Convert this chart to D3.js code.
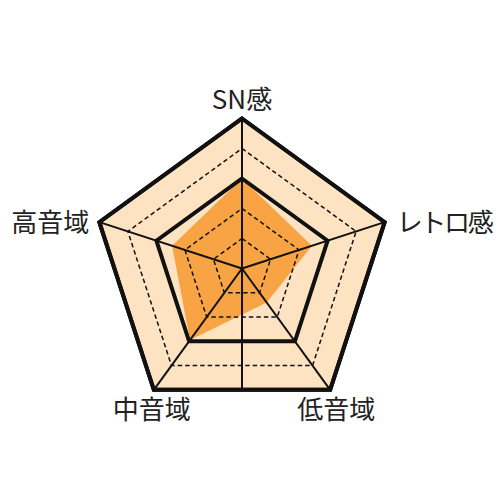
<!DOCTYPE html>
<html>
<head>
<meta charset="utf-8">
<script src="https://cdn.jsdelivr.net/npm/d3@7"></script>
<style>
html,body{margin:0;padding:0;background:#fff;}
svg{display:block;}
text{font-family:"Noto Sans CJK JP","Noto Sans",sans-serif;fill:#222;}
</style>
</head>
<body>
<svg></svg>
<script>
var axes = ['SN感', 'レトロ感', '低音域', '中音域', '高音域'];
var values = [3, 2.45, 1.4, 2.95, 2.45];
var levels = [1, 2, 3, 4, 5];
var boldLevels = [3, 5];

var width = 500,
    height = 500,
    cx = 242,
    cy = 268.5,
    radius = 150;

var svg = d3.select('svg')
    .attr('width', width)
    .attr('height', height);

var r = d3.scaleLinear().domain([0, 5]).range([0, radius]);
var angle = d3.scaleLinear().domain([0, axes.length]).range([0, 2 * Math.PI]);

function pt(i, v){
    var a = angle(i);
    return [cx + r(v) * Math.sin(a), cy - r(v) * Math.cos(a)];
}
function ring(v){
    return axes.map(function(d, i){ return pt(i, v); });
}
var line = d3.line().curve(d3.curveLinearClosed);

// background
svg.append('path')
    .attr('d', line(ring(5)))
    .attr('fill', '#fde3c2');

// data shape
svg.append('path')
    .attr('d', line(values.map(function(v, i){ return pt(i, v); })))
    .attr('fill', '#f8a444');

// grid rings
svg.selectAll('path.ring')
    .data(levels)
    .enter().append('path')
    .classed('ring', true)
    .attr('d', function(d){ return line(ring(d)); })
    .attr('fill', 'none')
    .attr('stroke', '#111')
    .attr('stroke-linejoin', 'miter')
    .attr('stroke-width', function(d){ return boldLevels.indexOf(d) >= 0 ? 4 : 1.5; })
    .attr('stroke-dasharray', function(d){ return boldLevels.indexOf(d) >= 0 ? null : '4.5,3'; });

// spokes
svg.selectAll('line.spoke')
    .data(axes)
    .enter().append('line')
    .classed('spoke', true)
    .attr('x1', cx)
    .attr('y1', cy)
    .attr('x2', function(d, i){ return pt(i, 5)[0]; })
    .attr('y2', function(d, i){ return pt(i, 5)[1]; })
    .attr('stroke', '#111')
    .attr('stroke-width', 2);

// vertical line down to the bottom edge
var bottom = (pt(2, 5)[1] + pt(3, 5)[1]) / 2;
svg.append('line')
    .attr('x1', cx).attr('y1', cy)
    .attr('x2', cx).attr('y2', bottom)
    .attr('stroke', '#111')
    .attr('stroke-width', 2);

// outer edge again on top
svg.append('path')
    .attr('d', line(ring(5)))
    .attr('fill', 'none')
    .attr('stroke', '#111')
    .attr('stroke-width', 4);

// labels
var labelPos = [
    {dx: 0, dy: -10, anchor: 'middle', ls: 0},
    {dx: 12, dy: 10, anchor: 'start', ls: -2.3},
    {dx: 6, dy: 29, anchor: 'middle', ls: 0},
    {dx: -2, dy: 29, anchor: 'middle', ls: 0},
    {dx: -10, dy: 10, anchor: 'end', ls: 0}
];
svg.selectAll('text.label')
    .data(axes)
    .enter().append('text')
    .classed('label', true)
    .text(function(d){ return d; })
    .attr('x', function(d, i){ return pt(i, 5)[0] + labelPos[i].dx; })
    .attr('y', function(d, i){ return pt(i, 5)[1] + labelPos[i].dy; })
    .style('text-anchor', function(d, i){ return labelPos[i].anchor; })
    .style('letter-spacing', function(d, i){ return labelPos[i].ls + 'px'; })
    .style('font-size', '26px');
</script>
</body>
</html>
